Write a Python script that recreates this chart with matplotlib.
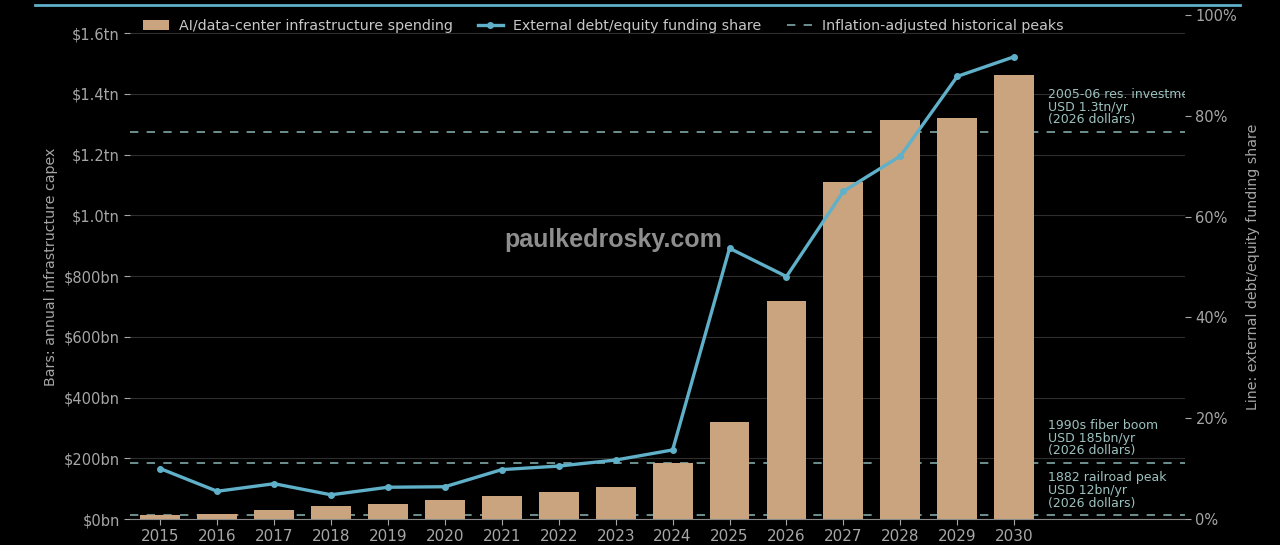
import numpy as np
import matplotlib
matplotlib.use("Agg")
import matplotlib.pyplot as plt
from matplotlib.ticker import FuncFormatter, MultipleLocator
from matplotlib.lines import Line2D

# data
years = [2015, 2016, 2017, 2018, 2019, 2020, 2021, 2022, 2023,
         2024, 2025, 2026, 2027, 2028, 2029, 2030]
capex_bn = [12, 18, 30, 42, 48, 63, 75, 88, 106,
            183, 321, 717, 1110, 1314, 1320, 1462]
ext_share = [0.100, 0.055, 0.070, 0.048, 0.063, 0.064, 0.098, 0.105, 0.117,
             0.137, 0.537, 0.481, 0.650, 0.720, 0.878, 0.917]

peak_vals_bn = [1275, 185, 12]
peak_labels = ["2005-06 res. investment\nUSD 1.3tn/yr\n(2026 dollars)",
               "1990s fiber boom\nUSD 185bn/yr\n(2026 dollars)",
               "1882 railroad peak\nUSD 12bn/yr\n(2026 dollars)"]

BAR = "#c9a47e"
LINE = "#5fb0c8"
PEAK = "#7fa9a8"
NOTE = "#9cc2bf"
TXT = "#a6a6a6"

plt.rcParams['font.family'] = ['DejaVu Sans']

fig = plt.figure(figsize=(12.8, 5.45), dpi=100, facecolor="black")
ax = fig.add_axes([0.1016, 0.0477, 0.8242, 0.925])
ax.set_facecolor("black")
ax2 = ax.twinx()

x = np.arange(len(years))

# historical peaks behind bars
for v in peak_vals_bn:
    ax.axhline(v, color=PEAK, lw=1.2, ls=(0, (5, 5)), zorder=1)
bars = ax.bar(x, capex_bn, width=0.7, color=BAR, zorder=2,
              label="AI/data-center infrastructure spending")

for v, lab in zip(peak_vals_bn, peak_labels):
    ax.text(15.6, v + 18, lab, color=NOTE, fontsize=9, va="bottom",
            ha="left", linespacing=0.98, clip_on=True, zorder=3)

ax.set_ylim(0, 1660)
ax.set_xlim(-0.53, 18.0)
ax.yaxis.set_major_locator(MultipleLocator(200))


def fmt_cap(v, pos):
    if v >= 1000:
        return f"${v/1000:.1f}tn"
    return f"${v:.0f}bn"


ax.yaxis.set_major_formatter(FuncFormatter(fmt_cap))
ax.set_xticks(x)
ax.set_xticklabels([str(y) for y in years])
ax.grid(axis="y", color="#2e2e2e", lw=0.8, zorder=0)
ax.set_axisbelow(True)
ax.set_ylabel("Bars: annual infrastructure capex", color=TXT, fontsize=10.2)

ax2.plot(x, ext_share, color=LINE, lw=2.4, marker="o", markersize=4,
         label="External debt/equity funding share", zorder=5)
ax2.set_ylim(0, 1.0)
ax2.yaxis.set_major_locator(MultipleLocator(0.2))
ax2.yaxis.set_major_formatter(FuncFormatter(lambda v, p: f"{v*100:.0f}%"))
ax2.set_ylabel("Line: external debt/equity funding share", color=TXT,
               fontsize=10.2, labelpad=6)

for a in (ax, ax2):
    for s in a.spines.values():
        s.set_visible(False)
    a.tick_params(colors=TXT, labelsize=10.5, length=4, width=0.8)
ax.tick_params(axis="x", labelsize=11, pad=3)
ax.spines["bottom"].set_visible(True)
ax.spines["bottom"].set_color("#8a8a8a")

peak_handle = Line2D([], [], color=PEAK, lw=1.2, ls=(0, (5, 5)),
                     label="Inflation-adjusted historical peaks")
line_handle = ax2.get_lines()[0]
leg = ax2.legend([bars, line_handle, peak_handle],
                 [bars.get_label(), line_handle.get_label(), peak_handle.get_label()],
                 loc="upper left", bbox_to_anchor=(0.0, 1.018), ncol=3,
                 frameon=False, fontsize=10.3, columnspacing=1.75,
                 handlelength=1.8, handletextpad=0.7)
for t in leg.get_texts():
    t.set_color("#c8c8c8")

ax.text(0.458, 0.554, "paulkedrosky.com", transform=ax.transAxes,
        ha="center", va="center", fontsize=18, fontweight="bold",
        family="Liberation Sans", color="#8e8e8e", zorder=4)

fig.add_artist(Line2D([0.027, 0.969], [0.99, 0.99], color=LINE, lw=2,
                      transform=fig.transFigure))

fig.savefig("out.png", dpi=100, facecolor="black")
